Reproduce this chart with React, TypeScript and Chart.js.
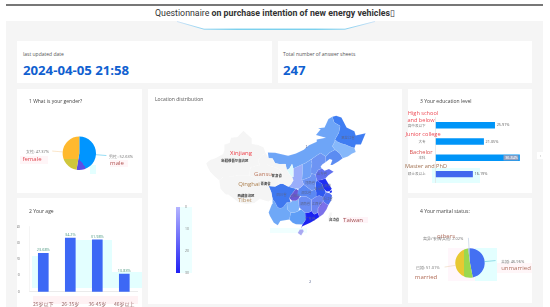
import React, { useEffect, useRef } from "react";
import { Chart, registerables } from "chart.js";

Chart.register(...registerables);

// ---------- data ----------
const genderLabels = ["男性: 52.63%", "女性: 47.37%"];
const genderValues = [52.63, 47.37];

const ageCategories = ["25岁以下", "26-35岁", "36-45岁", "46岁以上"];
const ageValues = [23.68, 33, 31.98, 10.83];
const ageText = ["23.68%", "34.2%", "31.98%", "10.83%"];

const eduCategories = ["高中及以下", "大专", "本科", "硕士及以上"];
const eduValues = [25.91, 21.05, 36.84, 16.19];
const eduText = ["25.91%", "21.05%", "36.84%", "16.19%"];

const maritalLabels = ["未婚: 46.96%", "已婚: 51.01%", "离异/丧偶/其他: 2.02%"];
const maritalValues = [46.96, 51.01, 2.02];

type Pt = [number, number];
const xinjiang: Pt[] = [[73.5,39.5],[75,40.5],[77,41],[80,42.2],[80.5,43.5],[80.5,45],[82.5,45.5],[83,47],[85.5,47.2],[87.8,49.1],[91,46.8],[91,45.2],[93.5,44.9],[95.5,44.2],[96.3,42.6],[94.5,41.5],[93.5,40.5],[94,39],[90.5,38.3],[90,36],[86,36],[82,35.5],[80,35.5],[78.5,34.5],[77,35.5],[75,37],[74,38.5]];
const tibet: Pt[] = [[78.5,34.5],[80,35.5],[82,35.5],[86,36],[90,36],[94,34.5],[97.5,32.8],[98.5,31],[99,29],[97.5,28.3],[94,29],[92,27.8],[89,27.5],[86,28],[82,30.3],[81,30.3],[79,32]];
const qinghai: Pt[] = [[90,36],[90.5,38.3],[94,39],[97,39],[99,38.5],[101.5,37.8],[103,36.7],[102.5,35.3],[101,34],[102,33.5],[100,32.7],[97.5,32.8],[94,34.5]];
const gansu: Pt[] = [[94,39],[93.5,40.5],[94.5,41.5],[96.3,42.6],[97.5,41],[99,40.9],[100,39.5],[102,39.2],[104,39.3],[104.5,37.5],[105.3,36.5],[106.5,35.5],[107,34.5],[106,33.2],[105,32.7],[103,33.5],[102,33.5],[101,34],[102.5,35.3],[103,36.7],[101.5,37.8],[99,38.5],[97,39]];
const innerMongolia: Pt[] = [[97.2,42.7],[100,42.6],[105,41.7],[108,42.4],[111,43.5],[113,44.8],[116,45.8],[116,46.5],[119.5,47],[115.7,47.8],[117.5,49.5],[116.5,49.8],[119,50],[120.5,52.5],[122,53.2],[122.7,51.5],[125,50.5],[124.5,48.5],[123,46.5],[123,46],[122,44.5],[123,43.5],[121,42.7],[119.5,41.5],[117.5,42.5],[116,41.8],[114.5,41],[113.5,40.5],[111.5,39.5],[110.5,39.2],[107,38],[106.5,39.3],[105.5,38],[104.5,37.5],[104,39.3],[102,39.2],[100,39.5],[99,40.9],[97.5,41]];
const heilongjiang: Pt[] = [[122,53.2],[123.5,53.5],[125.5,53],[127.5,50],[130.5,48.9],[131,47.7],[134.8,48.3],[133,45],[131,45],[130.5,44],[128.5,44.5],[127,45],[125.5,45.3],[124,45.8],[123,46.5],[124.5,48.5],[125,50.5],[122.7,51.5]];
const jilin: Pt[] = [[123,46.5],[124,45.8],[125.5,45.3],[127,45],[128.5,44.5],[130.5,44],[131,42.8],[129.5,42.3],[128,41.5],[126,41],[125,42.3],[124,43],[123,43.5],[122,44.5],[123,46]];
const liaoning: Pt[] = [[119.5,41.5],[121,42.7],[123,43.5],[124,43],[125,42.3],[126,41],[124.3,40],[122,39],[121.3,39],[122,40.5],[121,40.8],[119.5,39.9]];
const hebei: Pt[] = [[114.5,41],[116,41.8],[117.5,42.5],[119.5,41.5],[119.5,39.9],[118,39.1],[117.5,38.5],[118,38],[116.5,37.5],[115.5,36.2],[114,36.5],[113.8,38],[114.2,39.5],[113.8,40.5]];
const beijing: Pt[] = [[115.5,40],[116.5,41],[117.5,40.3],[116.7,39.5]];
const tianjin: Pt[] = [[117,39.9],[118,39.3],[117.5,38.6],[116.8,39]];
const shanxi: Pt[] = [[110.5,39.2],[111.5,39.5],[113.5,40.5],[113.8,40.5],[114.2,39.5],[113.8,38],[114,36.5],[113.5,35.5],[112,35],[110.3,34.6],[110.5,36.5]];
const shaanxi: Pt[] = [[110.5,39.2],[110.5,36.5],[110.3,34.6],[111,33.3],[110,32.5],[109,32],[107,32.2],[105,32.7],[106,33.2],[107,34.5],[106.5,35.5],[107,35.5],[107,37.2],[107,38]];
const ningxia: Pt[] = [[106.5,39.3],[107,38],[107,37.2],[107,35.5],[106.5,35.5],[105.3,36.5],[104.5,37.5],[105.5,38]];
const henan: Pt[] = [[112,35],[113.5,35.5],[114,36.5],[115.5,36.2],[116,34.5],[115.5,33.5],[115.5,31.8],[114,31.5],[112.5,32.4],[111,33.3],[110.3,34.6]];
const shandong: Pt[] = [[115.5,36.2],[116.5,37.5],[118,38],[119,37.3],[120.7,37.8],[122.5,37],[120.5,36],[119.3,35],[117.5,34.6],[116,34.5]];
const jiangsu: Pt[] = [[116,34.5],[117.5,34.6],[119.3,35],[120.5,33.5],[121.8,32],[121,31.3],[119.8,31.2],[119,31.8],[118.5,32.3],[118,33.5],[117,34]];
const shanghai: Pt[] = [[121,31.3],[121.8,31.6],[121.9,31],[121,30.7]];
const anhui: Pt[] = [[115.5,33.5],[116,34.5],[117,34],[118,33.5],[118.5,32.3],[119,31.8],[119.5,31],[118.5,29.5],[117,30],[116,29.8],[115.8,31],[115.5,31.8]];
const zhejiang: Pt[] = [[118.5,29.5],[119.5,31],[121,30.7],[121.9,30],[121.5,28.5],[120.5,27.2],[119.5,27.7],[118.5,28.3]];
const fujian: Pt[] = [[116.5,25],[117,23.7],[118.5,24.5],[119.8,26],[120.5,27.2],[119.5,27.7],[118.5,28.3],[117.5,27.5],[116.5,26.3]];
const jiangxi: Pt[] = [[114,28.8],[116,29.8],[117,30],[118.5,29.5],[118.5,28.3],[117.5,27.5],[116.5,26.3],[116.5,25],[115,24.5],[114,25.5],[114,27]];
const hubei: Pt[] = [[108.5,30],[109,32],[110,32.5],[111,33.3],[112.5,32.4],[114,31.5],[115.5,31.8],[115.8,31],[116,29.8],[114,28.8],[112,29.7],[110,29.8]];
const hunan: Pt[] = [[109,29],[110,29.8],[112,29.7],[114,28.8],[114,27],[114,25.5],[113,25],[111.5,25],[110,26],[109.3,26.5],[109,28]];
const chongqing: Pt[] = [[106,30],[105.5,29.2],[106.5,28.5],[108,28.5],[109,29],[110,30.5],[109,31.5],[108,32]];
const sichuan: Pt[] = [[97.5,32.8],[100,32.7],[102,33.5],[103,33.5],[105,32.7],[107,32.2],[108,32],[106,30],[105.5,29.2],[106,28],[104.5,28],[103,26.5],[102,26.3],[101,26.5],[100,28],[99,29],[98.5,31]];
const yunnan: Pt[] = [[97.5,25],[98.8,27.5],[99,29],[100,28],[101,26.5],[102,26.3],[103,26.5],[104.5,28],[104.7,26],[106,25],[105.5,23],[102,22.5],[101,21.3],[99.5,22],[98,24]];
const guizhou: Pt[] = [[104.7,26],[104.5,28],[106,28],[106.5,28.5],[108,28.5],[109,29],[109,28],[109.3,26.5],[109,25.5],[107.5,25],[106,25]];
const guangxi: Pt[] = [[105.5,23],[106,25],[107.5,25],[109,25.5],[110,26],[111.5,25],[111.8,23],[110.5,21.5],[108,21.6],[106.7,22]];
const guangdong: Pt[] = [[110.5,21.5],[111.8,23],[111.5,25],[113,25],[114,25.5],[115,24.5],[116.5,25],[117,23.7],[115,22.7],[113.5,22],[110.5,21],[110,20.3]];
const hainan: Pt[] = [[108.7,19],[109.5,20],[110.7,20],[111,19.5],[110,18.3]];
const taiwan: Pt[] = [[120.2,23],[121,25],[122,25],[121,22]];

const provinces: [Pt[], string][] = [
  [xinjiang, "#f5f5f5"], [tibet, "#f5f5f5"], [qinghai, "#f5f5f5"], [gansu, "#f5f5f5"],
  [ningxia, "#dffafc"], [innerMongolia, "#6ea5f7"], [heilongjiang, "#3f7df2"], [jilin, "#86b8fa"],
  [liaoning, "#5b8cf2"], [hebei, "#6d94f3"], [beijing, "#3e63ee"], [tianjin, "#5b7ef0"],
  [shanxi, "#6fa0f6"], [shaanxi, "#9aaefa"], [henan, "#6d93f3"], [shandong, "#6070ef"],
  [jiangsu, "#1f2df3"], [shanghai, "#2030f0"], [anhui, "#2f58f0"], [zhejiang, "#4f70f0"],
  [fujian, "#7b70ea"], [jiangxi, "#6b84f1"], [hubei, "#5b88f3"], [hunan, "#6a8df3"],
  [chongqing, "#6a58d4"], [sichuan, "#3f78ef"], [yunnan, "#6fa8f7"], [guizhou, "#7cb2fa"],
  [guangxi, "#5f9ef6"], [guangdong, "#1b22f2"], [hainan, "#a9a9f2"], [taiwan, "#f5f5f5"],
];

const mapNames: [string, number, number, boolean][] = [
  ["新疆维吾尔自治区", 84.5, 40.2, true], ["甘肃省", 100.6, 35.9, true], ["青海省", 96.3, 33.4, true],
  ["西藏自治区", 88.8, 30, true], ["台湾省", 122.7, 23, true],
  ["四川省", 102.5, 30.3, false], ["重庆市", 107.5, 30, false], ["湖北省", 112, 30.9, false],
  ["河南省", 113.4, 33.8, false], ["山东省", 118, 36.3, false], ["江苏省", 119.5, 33, false],
  ["安徽省", 117, 32, false], ["浙江省", 120.2, 29, false], ["湖南省", 111.5, 27.5, false],
  ["江西省", 116, 27.5, false], ["广东省", 113.5, 23.3, false], ["黑龙江省", 128, 47, false],
  ["1", 112, 44.4, false], ["2", 113.5, 4.8, false],
];

const legendTicks = ["0", "10", "20", "30"];

// ---------- small plugins (labels tied to data elements) ----------
const pieLabels = (texts: string[], colors: string[], len: number[], gap: number) => ({
  id: "pieLabels",
  afterDatasetsDraw(chart: any) {
    const { ctx } = chart;
    chart.getDatasetMeta(0).data.forEach((arc: any, i: number) => {
      const mid = (arc.startAngle + arc.endAngle) / 2;
      const r = arc.outerRadius;
      const x0 = arc.x + Math.cos(mid) * r;
      const y0 = arc.y + Math.sin(mid) * r;
      const x1 = arc.x + Math.cos(mid) * (r + len[i]);
      const y1 = arc.y + Math.sin(mid) * (r + len[i]);
      ctx.save();
      ctx.strokeStyle = colors[i];
      ctx.globalAlpha = 0.65;
      ctx.lineWidth = 0.7;
      ctx.beginPath();
      ctx.moveTo(x0, y0);
      ctx.lineTo(x1, y1);
      ctx.stroke();
      ctx.globalAlpha = 1;
      ctx.fillStyle = "#7a7a7a";
      ctx.font = "4px 'Noto Sans', sans-serif";
      ctx.textBaseline = "middle";
      const right = Math.cos(mid) > 0 && Math.sin(mid) > -0.9;
      ctx.textAlign = right ? "left" : "right";
      ctx.fillText(texts[i], x1 + (right ? gap : -gap), y1 + 1);
      ctx.restore();
    });
  },
});

const mapText = {
  id: "mapText",
  afterDatasetsDraw(chart: any) {
    const { ctx, scales } = chart;
    ctx.save();
    ctx.textAlign = "center";
    ctx.textBaseline = "middle";
    mapNames.forEach(([name, lon, lat, strong]) => {
      ctx.font = `${strong ? "bold " : ""}3.4px 'Noto Sans CJK SC', sans-serif`;
      ctx.fillStyle = strong ? "#333" : "#5a6690";
      ctx.fillText(name, scales.x.getPixelForValue(lon), scales.y.getPixelForValue(lat));
    });
    ctx.restore();
  },
};

const baseOptions = {
  animation: false,
  responsive: false,
  maintainAspectRatio: false,
  plugins: { legend: { display: false }, tooltip: { enabled: false } },
};

// ---------- components ----------
function ChartBox({ x, y, w, h, make }: { x: number; y: number; w: number; h: number; make: (c: CanvasRenderingContext2D) => any }) {
  const ref = useRef<HTMLCanvasElement>(null);
  useEffect(() => {
    const canvas = ref.current!;
    const chart = new Chart(canvas, make(canvas.getContext("2d")!));
    return () => chart.destroy();
  }, []);
  return <canvas ref={ref} width={w} height={h} style={{ position: "absolute", left: x, top: y, width: w, height: h }} />;
}

const Box = ({ x, y, w, h, c }: { x: number; y: number; w: number; h: number; c: string }) => (
  <div style={{ position: "absolute", left: x, top: y, width: w, height: h, background: c }} />
);

const Txt = ({ x, y, s, c, children, center, weight, lh }: any) => (
  <div
    style={{
      position: "absolute",
      left: x,
      top: y,
      fontSize: s,
      color: c,
      fontWeight: weight || 400,
      lineHeight: lh ? `${lh}px` : `${s}px`,
      whiteSpace: "pre",
      transform: center ? "translate(-50%, -50%)" : "translateY(-50%)",
      fontFamily: "'Open Sans', 'Noto Sans CJK SC', sans-serif",
    }}
  >
    {children}
  </div>
);

const genderChart = (ctx: CanvasRenderingContext2D) => {
  const blue = ctx.createLinearGradient(57.5, 76.8, 70.5, 67.8);
  blue.addColorStop(0, "#5a4fe6");
  blue.addColorStop(0.5, "#5a4fe6");
  blue.addColorStop(0.5, "#0095ff");
  blue.addColorStop(1, "#0095ff");
  const yellow = ctx.createLinearGradient(0, 48, 0, 81);
  yellow.addColorStop(0, "#ffb92e");
  yellow.addColorStop(0.68, "#ffb92e");
  yellow.addColorStop(0.68, "#cfc63c");
  yellow.addColorStop(1, "#cfc63c");
  return {
    type: "pie",
    data: {
      labels: genderLabels,
      datasets: [{ data: genderValues, backgroundColor: [blue, yellow], borderWidth: 0 }],
    },
    options: {
      ...baseOptions,
      layout: { padding: { left: 45.6, right: 46, top: 47.6, bottom: 23 } },
    },
    plugins: [pieLabels(genderLabels, ["#18b4e8", "#f7c98a"], [10.5, 10.5], 3)],
  };
};

const maritalChart = (ctx: CanvasRenderingContext2D) => {
  const mid = ctx.createLinearGradient(50, 0, 75, 0);
  mid.addColorStop(0, "#e8c832");
  mid.addColorStop(0.24, "#e8c832");
  mid.addColorStop(0.24, "#9bd84e");
  mid.addColorStop(1, "#9bd84e");
  return {
    type: "pie",
    data: {
      labels: maritalLabels,
      datasets: [{ data: maritalValues, backgroundColor: ["#4470f2", mid, "#8fb0e0"], borderWidth: 0 }],
    },
    options: {
      ...baseOptions,
      layout: { padding: { left: 45.3, right: 45.3, top: 50.3, bottom: 25.3 } },
    },
    plugins: [pieLabels(maritalLabels, ["#30b0c8", "#e8c8a0", "#a0b8d8"], [11, 11, 10.5], 5)],
  };
};

const fixedAxis = (size: number) => ({
  afterFit(axis: any) {
    if (axis.isHorizontal()) axis.height = size;
    else axis.width = size;
  },
});

const ageChart = () => ({
  type: "bar",
  data: {
    labels: ageCategories,
    datasets: [{ data: ageValues, backgroundColor: "#3d68f5", barThickness: 10 }],
  },
  options: {
    ...baseOptions,
    layout: { padding: { top: 28.7, right: 4.2, left: 0, bottom: 0 } },
    scales: {
      x: {
        ...fixedAxis(15.3),
        grid: { display: false },
        border: { color: "#dddddd", width: 0.6 },
        ticks: { color: "#9a6a6a", font: { size: 5, family: "'Noto Sans CJK SC'" }, padding: 1, maxRotation: 0, autoSkip: false },
      },
      y: {
        ...fixedAxis(12.8),
        min: 0,
        max: 40,
        grid: { display: false },
        border: { color: "#eeeeee", width: 0.6 },
        ticks: { color: "#777", font: { size: 3.6, family: "'Noto Sans'" }, stepSize: 10, padding: 2 },
      },
    },
  },
  plugins: [
    {
      id: "ageValues",
      afterDatasetsDraw(chart: any) {
        const { ctx } = chart;
        ctx.save();
        ctx.font = "3.8px 'Noto Sans', sans-serif";
        ctx.fillStyle = "#5aa08a";
        ctx.textAlign = "center";
        chart.getDatasetMeta(0).data.forEach((b: any, i: number) => ctx.fillText(ageText[i], b.x, b.y - 2));
        ctx.restore();
      },
    },
  ],
});

const eduChart = () => ({
  type: "bar",
  data: {
    labels: eduCategories,
    datasets: [
      {
        data: eduValues,
        backgroundColor: ["#0095f8", "#0095f8", "#0095f8", "#4168ee"],
        barThickness: 5.7,
      },
    ],
  },
  options: {
    ...baseOptions,
    indexAxis: "y",
    layout: { padding: { top: 28.1, right: 5.3, left: 0, bottom: 0 } },
    scales: {
      y: {
        ...fixedAxis(27.7),
        grid: { display: false },
        border: { color: "#dddddd", width: 0.6 },
        ticks: { color: "#777", font: { size: 3.6, family: "'Noto Sans CJK SC'" }, padding: 2, autoSkip: false },
      },
      x: {
        ...fixedAxis(10.8),
        min: 0,
        max: 40,
        grid: { display: false },
        border: { display: false },
        ticks: { color: "#777", font: { size: 3.6, family: "'Noto Sans'" }, stepSize: 10, padding: 3 },
      },
    },
  },
  plugins: [
    {
      id: "eduValues",
      afterDatasetsDraw(chart: any) {
        const { ctx } = chart;
        ctx.save();
        ctx.font = "3.8px 'Noto Sans', sans-serif";
        ctx.textBaseline = "middle";
        chart.getDatasetMeta(0).data.forEach((b: any, i: number) => {
          if (i === 2) {
            ctx.fillStyle = "#8f9fc0";
            ctx.fillRect(b.x - 16, b.y - 2.6, 15, 5.2);
            ctx.fillStyle = "#ffffff";
            ctx.textAlign = "right";
            ctx.fillText(eduText[i], b.x - 1.5, b.y);
          } else {
            ctx.fillStyle = "#666";
            ctx.textAlign = "left";
            ctx.fillText(eduText[i], b.x + 2, b.y);
          }
        });
        ctx.restore();
      },
    },
  ],
});

const mapChart = () => ({
  type: "scatter",
  data: {
    datasets: provinces.map(([pts, color]) => ({
      data: [...pts, pts[0]].map(([x, y]) => ({ x, y })),
      showLine: true,
      fill: "shape",
      backgroundColor: color,
      borderColor: "rgba(255,255,255,0.25)",
      borderWidth: 0.3,
      pointRadius: 0,
      tension: 0,
    })),
  },
  options: {
    ...baseOptions,
    layout: { padding: 0 },
    scales: {
      x: { type: "linear", display: false, min: 51.1, max: 148.8 },
      y: { type: "linear", display: false, min: -1.88, max: 61.35 },
    },
  },
  plugins: [mapText],
});

export default function App() {
  return (
    <div style={{ position: "fixed", left: 0, top: 0, width: 550, height: 307, overflow: "hidden", background: "#fff" }}>
      <Box x={6} y={4} w={537} h={1.5} c="#777" />
      <Box x={6} y={21} w={537} h={286} c="#f5f5f5" />
      <svg width={550} height={40} style={{ position: "absolute", left: 0, top: 0 }}>
        <defs>
          <linearGradient id="deco" x1="0" x2="1" y1="0" y2="0">
            <stop offset="0" stopColor="#cfe4f8" />
            <stop offset="0.3" stopColor="#45bfe8" />
            <stop offset="0.7" stopColor="#45bfe8" />
            <stop offset="1" stopColor="#cfe4f8" />
          </linearGradient>
        </defs>
        <polygon points="177,21 204,29.2 345,29.2 375,21" fill="#fff" />
        <polyline points="177,21.5 204,29.2 345,29.2 375,21.5" fill="none" stroke="url(#deco)" strokeWidth="1" />
      </svg>
      <div
        style={{
          position: "absolute",
          left: 155,
          top: 6,
          fontSize: 8.8,
          lineHeight: "14px",
          whiteSpace: "pre",
          color: "#333",
          fontFamily: "Roboto, sans-serif",
        }}
      >
        Questionnaire <b>on purchase intention of new energy vehicles</b>▯
      </div>

      {/* cards */}
      <Box x={17} y={41} w={255} h={42} c="#fff" />
      <Box x={278} y={41} w={254} h={42} c="#fff" />
      <Box x={17} y={89} w={125} h={104} c="#fff" />
      <Box x={17} y={198} w={125} h={109} c="#fff" />
      <Box x={148} y={89} w={254} h={215} c="#fff" />
      <Box x={408} y={89} w={124} h={104} c="#fff" />
      <Box x={408} y={198} w={124} h={105} c="#fff" />

      {/* pale tints */}
      <Box x={32} y={255.5} w={7} h={32} c="#e3ffff" />
      <Box x={75} y={240} w={37} h={48} c="#e3ffff" />
      <Box x={112} y={272} w={30} h={16} c="#e3ffff" />
      <Box x={33} y={296} w={105} h={8} c="#fff2f4" />
      <Box x={90} y={165} w={6} h={9} c="#e3ffff" />
      <Box x={20} y={156} w={28} h={8} c="#fff5f7" />
      <Box x={110} y={160} w={18} h={7} c="#fff5f7" />
      <Box x={432} y={168} w={48} h={15} c="#e3ffff" />
      <Box x={448} y={248} w={27} h={33} c="#fff6fb" />
      <Box x={475} y={248} w={22} h={33} c="#e3ffff" />
      <Box x={497} y={263} w={35} h={10} c="#fff6f8" />
      <Box x={180} y={207} w={12} h={66} c="#ecffff" />
      <Box x={288} y={175} w={10} h={16} c="#e3ffff" />
      <Box x={270} y={228} w={37} h={5} c="#f0ffff" />
      <Box x={343} y={217} w={25} h={6} c="#fff4f8" />

      <ChartBox x={17} y={89} w={125} h={104} make={genderChart} />
      <ChartBox x={17} y={198} w={125} h={109} make={ageChart} />
      <ChartBox x={148} y={89} w={254} h={215} make={mapChart} />
      <ChartBox x={408} y={89} w={124} h={104} make={eduChart} />
      <ChartBox x={408} y={198} w={124} h={105} make={maritalChart} />

      {/* legend ramp */}
      <div style={{ position: "absolute", left: 176, top: 207, width: 4, height: 66, background: "linear-gradient(#b4b4ff, #2020f4)" }} />
      {legendTicks.map((t, i) => (
        <Txt key={t} x={185} y={207 + i * 21.9} s={3.4} c="#777">{t}</Txt>
      ))}

      {/* card text */}
      <Txt x={23} y={54} s={5} c="#555">last updated date</Txt>
      <Txt x={23} y={71} s={13.2} c="#1060d0" weight={700}>2024-04-05 21:58</Txt>
      <Txt x={283} y={54} s={5} c="#555">Total number of answer sheets</Txt>
      <Txt x={283} y={71} s={13.2} c="#1060d0" weight={700}>247</Txt>
      <Txt x={29} y={101} s={5} c="#444">1 What is your gender?</Txt>
      <Txt x={29} y={211} s={5} c="#444">2 Your age</Txt>
      <Txt x={155} y={99} s={5} c="#555">Location distribution</Txt>
      <Txt x={420} y={101} s={5} c="#444">3 Your education level</Txt>
      <Txt x={420} y={211} s={5} c="#444">4 Your marital status:</Txt>

      {/* annotations */}
      <Txt x={32} y={159} s={6} c="#e0454f" center>female</Txt>
      <Txt x={117} y={163} s={6} c="#b0504f" center>male</Txt>
      <Txt x={423} y={114} s={5.6} c="#ee4a55" center>High school</Txt>
      <Txt x={421} y={121} s={5.6} c="#ee4a55" center>and below</Txt>
      <Txt x={423} y={135} s={5.6} c="#ee4a55" center>Junior college</Txt>
      <Txt x={421} y={153} s={5.6} c="#d9504f" center>Bachelor</Txt>
      <Txt x={426} y={167} s={5.6} c="#a07050" center>Master and PhD</Txt>
      <Txt x={446} y={236} s={6} c="#b07060" center>others</Txt>
      <Txt x={426} y={277} s={6} c="#b06a55" center>married</Txt>
      <Txt x={516} y={268} s={6} c="#b07060" center>unmarried</Txt>
      <Txt x={241} y={153} s={6} c="#ee3b44" center>Xinjiang</Txt>
      <Txt x={263} y={174} s={6} c="#bd7a60" center>Gansu</Txt>
      <Txt x={249} y={184} s={6} c="#ad8050" center>Qinghai</Txt>
      <Txt x={245} y={200} s={6} c="#b8946a" center>Tibet</Txt>
      <Txt x={353} y={220} s={6} c="#a05050" center>Taiwan</Txt>

      {/* pager */}
      <Box x={537} y={152} w={7} h={7} c="#fff" />
      <Txt x={540.5} y={155.5} s={4} c="#888" center>‹</Txt>
    </div>
  );
}
